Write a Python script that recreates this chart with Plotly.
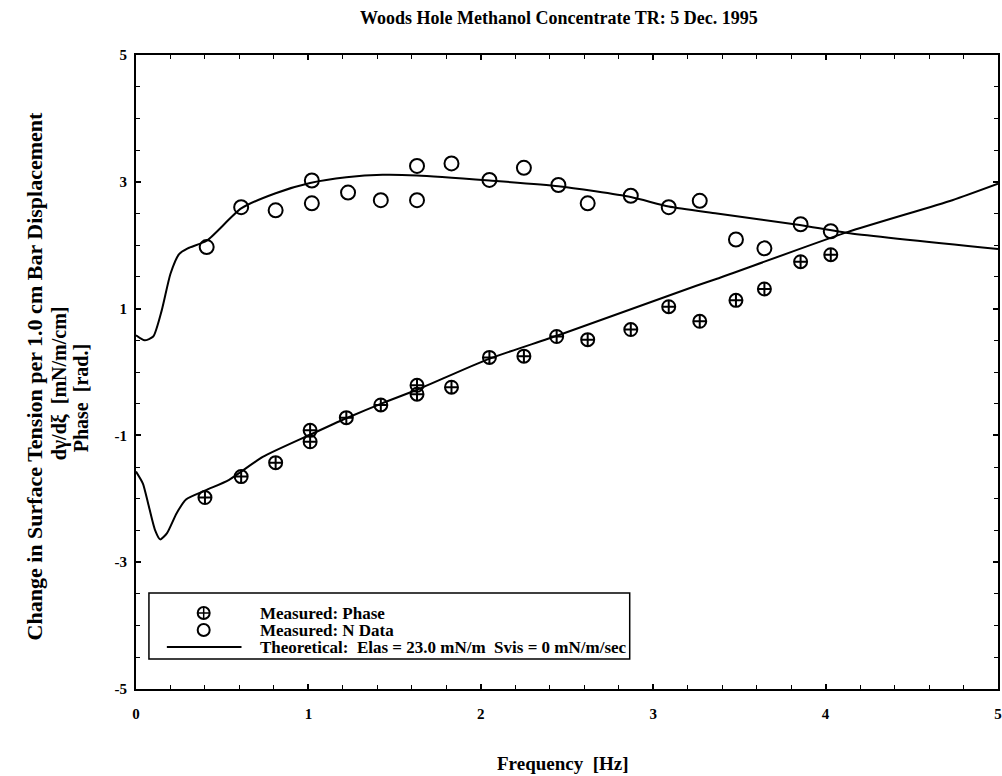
import plotly.graph_objects as go

# Measured surface-tension response (N data) and phase, frequency in Hz
freq_n = [0.41, 0.61, 0.81, 1.02, 1.02, 1.23, 1.42, 1.63, 1.63, 1.83, 2.05,
          2.25, 2.45, 2.62, 2.87, 3.09, 3.27, 3.48, 3.645, 3.855, 4.03]
n_data = [1.97, 2.60, 2.55, 3.02, 2.66, 2.83, 2.71, 2.71, 3.25, 3.29, 3.03,
          3.22, 2.95, 2.66, 2.78, 2.60, 2.70, 2.09, 1.95, 2.33, 2.22]

freq_phase = [0.40, 0.61, 0.81, 1.01, 1.01, 1.22, 1.42, 1.63, 1.63, 1.83, 2.05,
              2.25, 2.44, 2.62, 2.87, 3.09, 3.27, 3.48, 3.645, 3.855, 4.03]
phase = [-1.98, -1.65, -1.43, -0.92, -1.10, -0.72, -0.52, -0.21, -0.35, -0.24, 0.23,
         0.25, 0.56, 0.51, 0.67, 1.03, 0.80, 1.13, 1.31, 1.74, 1.85]

# Theoretical curves (Elas = 23.0 mN/m, Svis = 0)
theory_n_freq = [0, 0.05, 0.1, 0.15, 0.2, 0.25, 0.3, 0.41, 0.61, 0.81, 1.01, 1.22,
                 1.43, 1.63, 2.05, 2.45, 2.87, 3.09, 3.37, 3.85, 4.14, 5.0]
theory_n = [0.58, 0.50, 0.56, 0.98, 1.55, 1.86, 1.95, 2.07, 2.58, 2.82, 2.98, 3.07,
            3.11, 3.10, 3.02, 2.93, 2.76, 2.61, 2.50, 2.32, 2.19, 1.94]

theory_phase_freq = [0, 0.04, 0.07, 0.11, 0.14, 0.18, 0.235, 0.29, 0.41, 0.54, 0.735,
                     1.01, 1.22, 1.43, 1.63, 2.04, 2.45, 3.25, 3.37, 4.13, 4.735, 5.0]
theory_phase = [-1.57, -1.76, -2.07, -2.49, -2.64, -2.54, -2.23, -2.01, -1.86, -1.70, -1.34,
                -0.99, -0.73, -0.49, -0.28, 0.20, 0.58, 1.36, 1.47, 2.21, 2.71, 2.97]

x_ticks = [0, 1, 2, 3, 4, 5]
y_ticks = [-5, -3, -1, 1, 3, 5]

legend_labels = ["Measured: Phase", "Measured: N Data",
                 "Theoretical:  Elas = 23.0 mN/m  Svis = 0 mN/m/sec"]

FONT = "Liberation Serif"
INK = "black"
W, H = 1002, 776
ML, MR, MT, MB = 136, 0, 55, 87
PW, PH = W - ML - MR, H - MT - MB


def px(xp):
    """pixel column -> paper x"""
    return (xp - ML) / PW


def py(yp):
    """pixel row -> paper y"""
    return (H - MB - yp) / PH


fig = go.Figure()

fig.add_trace(go.Scatter(
    x=freq_phase, y=phase, mode="markers", name=legend_labels[0],
    marker=dict(symbol="circle-cross-open", size=13, color=INK, line=dict(width=2, color=INK)),
))
fig.add_trace(go.Scatter(
    x=freq_n, y=n_data, mode="markers", name=legend_labels[1],
    marker=dict(symbol="circle-open", size=14, color=INK, line=dict(width=2, color=INK)),
))
fig.add_trace(go.Scatter(
    x=theory_n_freq, y=theory_n, mode="lines", name=legend_labels[2],
    line=dict(color=INK, width=2, shape="spline", smoothing=0.6),
))
fig.add_trace(go.Scatter(
    x=theory_phase_freq, y=theory_phase, mode="lines", name=legend_labels[2],
    line=dict(color=INK, width=2, shape="spline", smoothing=0.6),
))

axis_common = dict(
    showgrid=False, zeroline=False, showline=True, linecolor=INK, linewidth=2,
    mirror="ticks", ticks="inside", ticklen=5, tickwidth=1.5, tickcolor=INK,
    ticklabeloverflow="allow",
    tickfont=dict(family=FONT, size=15, color=INK, weight="bold"),
)

fig.update_layout(
    width=W, height=H,
    margin=dict(l=ML, r=MR, t=MT, b=MB),
    paper_bgcolor="white", plot_bgcolor="white",
    font=dict(family=FONT, color=INK),
    showlegend=False,
    xaxis=dict(range=[0, 5], tickvals=x_ticks, ticktext=[str(v) for v in x_ticks],
               minor=dict(dtick=0.2, tick0=0, ticks="inside", ticklen=4, tickwidth=1.2,
                          tickcolor=INK),
               ticklabelstandoff=10, **axis_common),
    yaxis=dict(range=[-5, 5], tickvals=y_ticks, ticktext=[str(v) for v in y_ticks],
               minor=dict(dtick=0.5, tick0=0, ticks="inside", ticklen=4, tickwidth=1.2,
                          tickcolor=INK),
               ticklabelstandoff=4, **axis_common),
)

# ---- boxed key in the lower-left corner ----
box = dict(x0=149, x1=632, y0=593, y1=659)
fig.add_shape(type="rect", xref="paper", yref="paper",
              x0=px(box["x0"]), x1=px(box["x1"]), y0=py(box["y1"]), y1=py(box["y0"]),
              line=dict(color=INK, width=1.5), fillcolor="white", layer="above")
rows = [613, 630, 647]
sym_x, text_x = 204, 259
for yy in rows[:2]:
    fig.add_shape(type="circle", xref="paper", yref="paper",
                  xsizemode="pixel", ysizemode="pixel",
                  xanchor=px(sym_x), yanchor=py(yy),
                  x0=-6, x1=6, y0=-6, y1=6,
                  line=dict(color=INK, width=2), layer="above")
# cross inside the phase symbol
fig.add_shape(type="line", xref="paper", yref="paper", xsizemode="pixel", ysizemode="pixel",
              xanchor=px(sym_x), yanchor=py(rows[0]), x0=-6, x1=6, y0=0, y1=0,
              line=dict(color=INK, width=1.5), layer="above")
fig.add_shape(type="line", xref="paper", yref="paper", xsizemode="pixel", ysizemode="pixel",
              xanchor=px(sym_x), yanchor=py(rows[0]), x0=0, x1=0, y0=-6, y1=6,
              line=dict(color=INK, width=1.5), layer="above")
fig.add_shape(type="line", xref="paper", yref="paper",
              x0=px(167), x1=px(242), y0=py(rows[2]), y1=py(rows[2]),
              line=dict(color=INK, width=2), layer="above")
for lab, yy in zip(legend_labels, rows):
    fig.add_annotation(text=lab, xref="paper", yref="paper", x=px(text_x), y=py(yy),
                       xanchor="left", yanchor="middle", showarrow=False,
                       font=dict(family=FONT, size=17, color=INK, weight="bold"))

# ---- titles ----
fig.add_annotation(
    text="Woods Hole Methanol Concentrate TR: 5 Dec. 1995",
    xref="paper", yref="paper", x=px(561), y=py(18), yanchor="middle", showarrow=False,
    font=dict(family=FONT, size=18, color=INK, weight="bold"),
)
fig.add_annotation(
    text="Frequency  [Hz]",
    xref="paper", yref="paper", x=px(565), y=py(763), yanchor="middle", showarrow=False,
    font=dict(family=FONT, size=19, color=INK, weight="bold"),
)
for txt, cx, cy, fs in [("Change in Surface Tension per 1.0 cm Bar Displacement", 34, 376, 22),
                        ("dγ/dξ  [mN/m/cm]", 59, 383, 20),
                        ("Phase  [rad.]", 81, 398, 20)]:
    fig.add_annotation(
        text=txt, xref="paper", yref="paper", x=px(cx), y=py(cy),
        xanchor="center", yanchor="middle", showarrow=False, textangle=-90,
        font=dict(family=FONT, size=fs, color=INK, weight="bold"),
    )

fig.write_html("out.html")
